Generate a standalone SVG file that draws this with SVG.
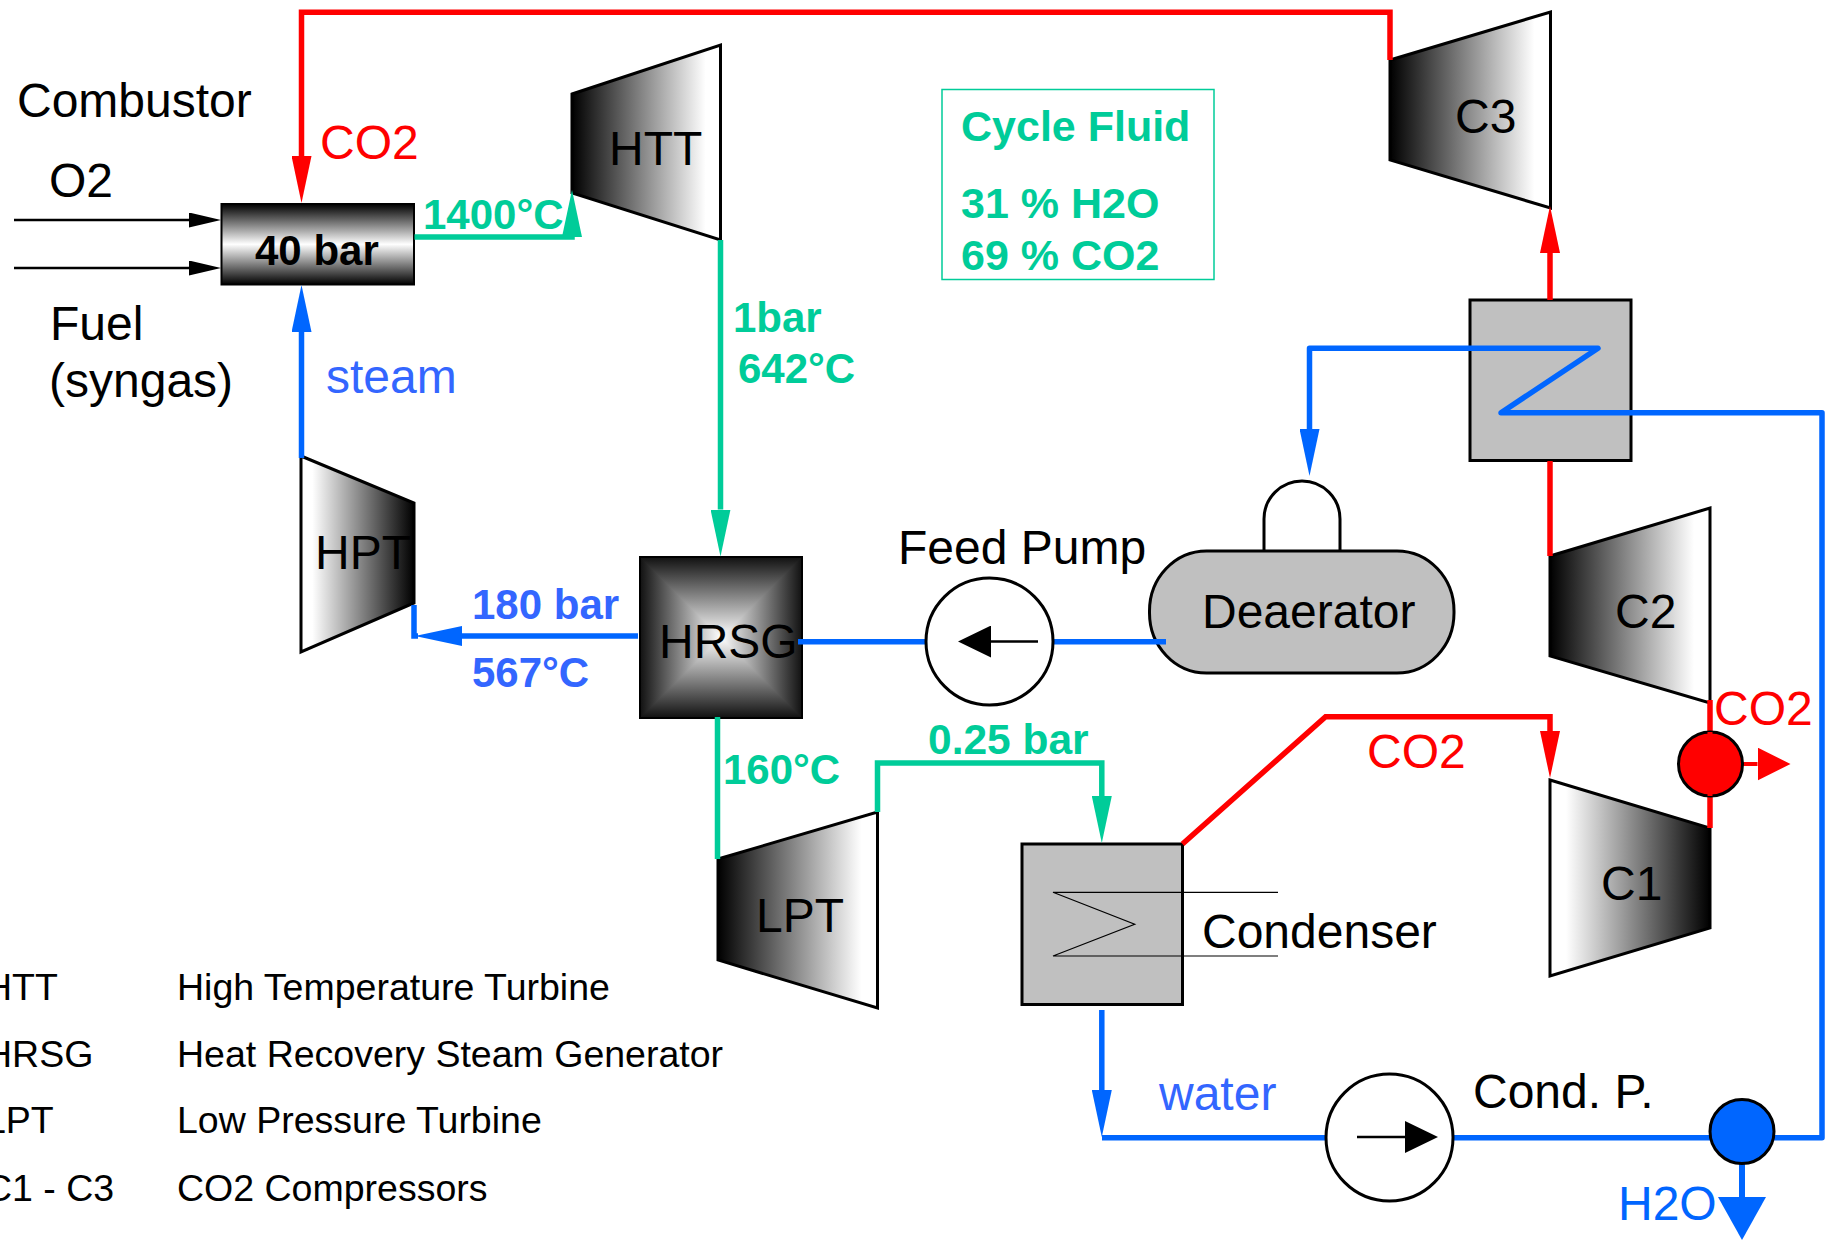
<svg xmlns="http://www.w3.org/2000/svg" width="1825" height="1240" viewBox="0 0 1825 1240">
<style>
text{font-family:"Liberation Sans",Arial,sans-serif;font-size:48px;fill:#000}
.b{font-weight:bold;font-size:42px}
.g{fill:#00cc99}.bl{fill:#3366ff}.r{fill:#ff0000}.bp{fill:#0066ff}
.leg{font-size:37.500px}
.t{stroke:#000;stroke-width:3;stroke-linejoin:miter}
.gray{fill:#c0c0c0;stroke:#000;stroke-width:3}
.pump{fill:#fff;stroke:#000;stroke-width:3}
.c{fill:none;stroke-width:5.500;stroke-linejoin:miter}
.cr{stroke:#ff0000}.cb{stroke:#0066ff}.cg{stroke:#00cc99}
.ck{fill:none;stroke:#000;stroke-width:2.500}
.thin{fill:none;stroke:#000;stroke-width:1.200}
</style>
<defs>
<linearGradient id="ltr"><stop offset="0" stop-color="#000"/><stop offset=".9" stop-color="#fff"/></linearGradient>
<linearGradient id="rtl"><stop offset=".1" stop-color="#fff"/><stop offset="1" stop-color="#000"/></linearGradient>
<linearGradient id="axial" x1="0" y1="0" x2="0" y2="1"><stop offset="0" stop-color="#000"/><stop offset=".5" stop-color="#fff"/><stop offset="1" stop-color="#000"/></linearGradient>
<linearGradient id="hV" gradientUnits="userSpaceOnUse" x1="0" y1="557" x2="0" y2="718"><stop offset="0" stop-color="#111"/><stop offset=".5" stop-color="#fff"/><stop offset="1" stop-color="#111"/></linearGradient>
<linearGradient id="hH" gradientUnits="userSpaceOnUse" x1="640" y1="0" x2="802" y2="0"><stop offset="0" stop-color="#111"/><stop offset=".5" stop-color="#fff"/><stop offset="1" stop-color="#111"/></linearGradient>
<marker id="ar" markerUnits="userSpaceOnUse" markerWidth="47" markerHeight="20" refX="0" refY="10" orient="auto"><path d="M0 0L47 10L0 20z" fill="#ff0000"/></marker>
<marker id="ab" markerUnits="userSpaceOnUse" markerWidth="47" markerHeight="20" refX="0" refY="10" orient="auto"><path d="M0 0L47 10L0 20z" fill="#0066ff"/></marker>
<marker id="ag" markerUnits="userSpaceOnUse" markerWidth="47" markerHeight="20" refX="0" refY="10" orient="auto"><path d="M0 0L47 10L0 20z" fill="#00cc99"/></marker>
<marker id="ak" markerUnits="userSpaceOnUse" markerWidth="32" markerHeight="15" refX="0" refY="7.500" orient="auto"><path d="M0 0L32 7.500L0 15z" fill="#000"/></marker>
<marker id="apump" markerUnits="userSpaceOnUse" markerWidth="33" markerHeight="32" refX="0" refY="16" orient="auto"><path d="M0 0L33 16L0 32z" fill="#000"/></marker>
<marker id="arout" markerUnits="userSpaceOnUse" markerWidth="33" markerHeight="33" refX="0" refY="16.500" orient="auto"><path d="M0 0L33 16.500L0 33z" fill="#ff0000"/></marker>
<marker id="about" markerUnits="userSpaceOnUse" markerWidth="43" markerHeight="48" refX="0" refY="24" orient="auto"><path d="M0 0L43 24L0 48z" fill="#0066ff"/></marker>
</defs>

<g id="combustor"><rect x="221.500" y="204" width="192.500" height="80.500" fill="url(#axial)" stroke="#000" stroke-width="2"/><text class="b" x="255" y="265">40 bar</text></g>
<g id="HTT"><polygon class="t" points="572,94 720.500,45 720.500,240 572,193" fill="url(#ltr)"/><text x="609" y="165">HTT</text></g>
<g id="HPT"><polygon class="t" points="301,456 414,503 414,603 301,652" fill="url(#rtl)"/><text x="315" y="569">HPT</text></g>
<g id="HRSG">
<rect x="640" y="557" width="162" height="161" fill="url(#hV)"/>
<polygon points="640,557 640,718 721,637.500" fill="url(#hH)"/><polygon points="802,557 802,718 721,637.500" fill="url(#hH)"/>
<rect x="640" y="557" width="162" height="161" fill="none" stroke="#000" stroke-width="2"/>
<text x="659" y="658">HRSG</text></g>
<g id="LPT"><polygon class="t" points="718,859 877.500,812 877.500,1008 718,960" fill="url(#ltr)"/><text x="756" y="932">LPT</text></g>
<g id="C3"><polygon class="t" points="1390,60 1550.500,12 1550.500,208 1390,160" fill="url(#ltr)"/><text x="1455" y="133">C3</text></g>
<g id="C2"><polygon class="t" points="1550,556 1710,508 1710,703 1550,656" fill="url(#ltr)"/><text x="1615" y="628">C2</text></g>
<g id="C1"><polygon class="t" points="1550,780 1710,828 1710,928 1550,976" fill="url(#rtl)"/><text x="1601" y="900">C1</text></g>
<g id="intercooler"><rect class="gray" x="1470" y="300" width="161" height="160.500"/></g>
<g id="condenser"><rect class="gray" x="1022" y="844" width="160.500" height="160.500"/>
<path class="thin" d="M1278 892.300H1053L1134.700 924.300L1053 956H1278"/>
<text x="1202" y="948">Condenser</text></g>
<g id="deaerator"><path d="M1264 551V519A38 38 0 0 1 1340 519V551" fill="#fff" stroke="#000" stroke-width="3"/>
<rect x="1149.500" y="551" width="304.500" height="122" rx="57" ry="60" fill="#c0c0c0" stroke="#000" stroke-width="3"/>
<text x="1202" y="628">Deaerator</text></g>

<g id="connectors">
<path class="c cr" d="M1390 60V12.300H301.500V156" marker-end="url(#ar)"/>
<path class="ck" d="M14 220H189" marker-end="url(#ak)"/>
<path class="ck" d="M14 268H189" marker-end="url(#ak)"/>
<path class="c cb" d="M301.500 458V332" marker-end="url(#ab)"/>
<path class="c cg" d="M414.500 237H572V236.900" marker-end="url(#ag)"/>
<path class="c cg" d="M720.500 240V509.500" marker-end="url(#ag)"/>
<path class="c cb" d="M638 636H462" marker-end="url(#ab)"/>
<path class="c cb" d="M414 605V636H418"/>
<path class="c cb" d="M798 641.700H926"/>
<path class="c cb" d="M1052 641.700H1166"/>
<path class="c cg" d="M717.500 717V859"/>
<path class="c cg" d="M877.500 812V763H1101.800V796" marker-end="url(#ag)"/>
<path class="c cr" d="M1182.500 844L1325.600 716.700H1550V731" marker-end="url(#ar)"/>
<path class="c cb" d="M1101.800 1010V1090" marker-end="url(#ab)"/>
<path class="c cb" d="M1102 1137.700H1326"/>
<path class="c cb" style="stroke-linejoin:round" d="M1453 1137.700H1822V412.700H1501L1598 348.300H1309.500V429" marker-end="url(#ab)"/>
<path class="c cr" d="M1550 300V253" marker-end="url(#ar)"/>
<path class="c cr" d="M1550 461V556"/>
<path class="c cr" d="M1710 700V828"/>
<path style="fill:none;stroke:#ff0000;stroke-width:4" d="M1742 764H1757.500" marker-end="url(#arout)"/>
<path style="fill:none;stroke:#0066ff;stroke-width:6" d="M1742 1163V1197" marker-end="url(#about)"/>
</g>

<g id="feed-pump"><circle class="pump" cx="989.500" cy="641.500" r="63.500"/><path style="fill:none;stroke:#000;stroke-width:2.500" d="M1038 641.500H991" marker-end="url(#apump)"/></g>
<g id="cond-pump"><circle class="pump" cx="1389.500" cy="1137.500" r="63.500"/><path style="fill:none;stroke:#000;stroke-width:2.500" d="M1357 1137H1405" marker-end="url(#apump)"/></g>
<g id="co2-split"><circle cx="1710.500" cy="764" r="32" fill="#ff0000" stroke="#000" stroke-width="3"/></g>
<g id="h2o-split"><circle cx="1742" cy="1131.500" r="32" fill="#0066ff" stroke="#000" stroke-width="3"/></g>
<path class="c cr" d="M1710 732V796" style="stroke-width:5"/>

<rect id="fluid-box" x="942" y="89.500" width="272" height="190" fill="none" stroke="#00cc99" stroke-width="1.500"/>
<g id="labels">
<text x="17" y="117">Combustor</text>
<text x="49" y="197">O2</text>
<text x="50" y="340">Fuel</text>
<text x="49" y="397">(syngas)</text>
<text class="r" x="320" y="159">CO2</text>
<text class="bl" x="326" y="393">steam</text>
<text class="b g" x="423" y="229">1400°C</text>
<text class="b g" x="733" y="332">1bar</text>
<text class="b g" x="738" y="383">642°C</text>
<text class="b g" x="961" y="141" style="font-size:43px">Cycle Fluid</text>
<text class="b g" x="961" y="218" style="font-size:43px">31 % H2O</text>
<text class="b g" x="961" y="270" style="font-size:43px">69 % CO2</text>
<text class="b bl" x="472" y="619">180 bar</text>
<text class="b bl" x="472" y="687">567°C</text>
<text class="b g" x="723" y="784">160°C</text>
<text class="b g" x="928" y="754" style="font-size:42.500px">0.25 bar</text>
<text x="898" y="564">Feed Pump</text>
<text class="r" x="1714" y="725">CO2</text>
<text class="r" x="1367" y="768">CO2</text>
<text class="bl" x="1159" y="1110">water</text>
<text x="1473" y="1108">Cond. P.</text>
<text class="bp" x="1618" y="1220">H2O</text>
<text class="leg" x="-15" y="1000">HTT</text><text class="leg" x="177" y="1000">High Temperature Turbine</text>
<text class="leg" x="-15" y="1067">HRSG</text><text class="leg" x="177" y="1067">Heat Recovery Steam Generator</text>
<text class="leg" x="-15" y="1133">LPT</text><text class="leg" x="177" y="1133">Low Pressure Turbine</text>
<text class="leg" x="-15" y="1201">C1 - C3</text><text class="leg" x="177" y="1201">CO2 Compressors</text>
</g>
</svg>
